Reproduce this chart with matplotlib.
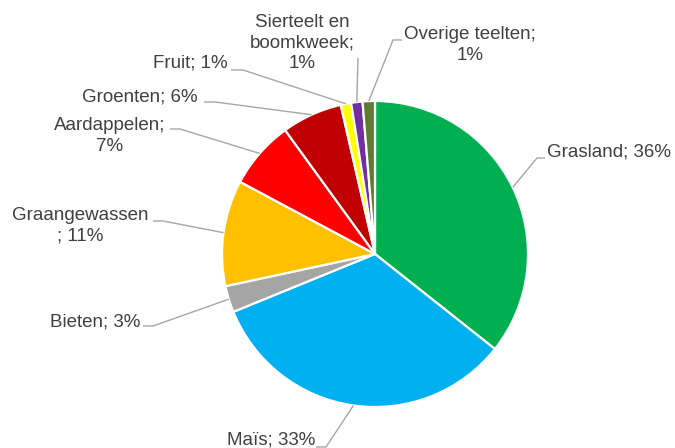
import numpy as np
import matplotlib
matplotlib.use('Agg')
import matplotlib.pyplot as plt

plt.rcParams['font.family'] = ['Liberation Sans', 'DejaVu Sans']

# Aandeel per teelt (%), met de klok mee vanaf boven
categories = ['Grasland', 'Maïs', 'Bieten', 'Graangewassen', 'Aardappelen',
              'Groenten', 'Fruit', 'Sierteelt en boomkweek', 'Overige teelten']
shares = [35.7, 33.2, 2.8, 11.2, 7.2, 6.4, 1.1, 1.2, 1.3]
label_texts = ['Grasland; 36%', 'Maïs; 33%', 'Bieten; 3%', 'Graangewassen\n; 11%',
               'Aardappelen;\n7%', 'Groenten; 6%', 'Fruit; 1%',
               'Sierteelt en\nboomkweek;\n1%', 'Overige teelten;\n1%']
colors = ['#00B050', '#00B0F0', '#A5A5A5', '#FFC000', '#FF0000',
          '#C00000', '#FFFF00', '#7030A0', '#617A33']

W, H = 675, 448
fig = plt.figure(figsize=(W / 100, H / 100), dpi=100)
ax = fig.add_axes([0, 0, 1, 1])

cx, cy, r = 375, H - 254, 153
wedges, _ = ax.pie(shares, colors=colors, startangle=90, counterclock=False,
                   center=(cx, cy), radius=r, frame=True,
                   wedgeprops=dict(edgecolor='white', linewidth=1.6))
ax.set_xlim(0, W)
ax.set_ylim(0, H)
ax.axis('off')

# label layout in pixel coords: text (x, y, ha), elbow, end of leader
layout = [
    ((547, 152, 'left'), (537, 158), (545, 158)),
    ((315, 440, 'right'), (326, 447), (316, 447)),
    ((140, 322, 'right'), (153, 326), (143, 326)),
    ((80, 226, 'center'), (163, 221), (153, 221)),
    ((110, 136, 'center'), (180, 129), (170, 129)),
    ((198, 97, 'right'), (215, 102), (204, 102)),
    ((228, 63, 'right'), (243, 70), (231, 70)),
    ((302, 43, 'center'), (358, 58), (358, 58)),
    ((470, 45, 'center'), (393, 40), (402, 40)),
]

for w, txt, ((tx, ty, ha), elbow, end) in zip(wedges, label_texts, layout):
    ang = np.deg2rad((w.theta1 + w.theta2) / 2)
    ex, ey = cx + r * np.cos(ang), cy + r * np.sin(ang)
    ax.plot([ex, elbow[0], end[0]], [ey, H - elbow[1], H - end[1]],
            color='#A6A6A6', linewidth=1.0, solid_capstyle='butt', zorder=1)
    ax.text(tx, H - ty, txt, ha=ha, va='center', multialignment='center',
            fontsize=13.5, color='#404040', linespacing=1.3)

fig.savefig('out.png', dpi=100, facecolor='white')
